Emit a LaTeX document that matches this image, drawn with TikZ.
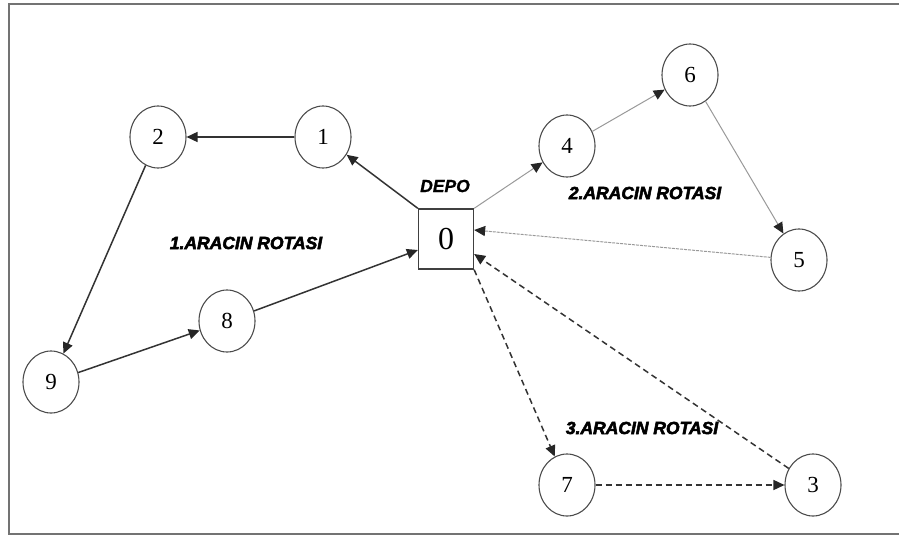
\documentclass[tikz,border=0pt]{standalone}
\usepackage{fontspec}
\setmainfont{Liberation Serif}
\newfontfamily\heavyfont[FakeBold=3]{Liberation Sans Bold Italic}
\newfontfamily\depofont[FakeBold=1]{Liberation Sans Bold Italic}
\usetikzlibrary{arrows.meta,shapes.geometric}
\tikzset{
  x=1pt, y=-1pt,
  stopnode/.style={draw=black!70, line width=1.1pt, ellipse, minimum width=56pt,
    minimum height=62pt, inner sep=0pt, font=\fontsize{23}{23}\selectfont},
  depot/.style={draw=black!75, line width=1.3pt, minimum width=55pt, minimum height=60pt,
    inner sep=0pt, font=\fontsize{32}{32}\selectfont},
  route/.style={font=\heavyfont\fontsize{17.5}{17.5}\selectfont},
  tip/.style={-{Triangle[length=11pt,width=10pt,color=black!85]}},
  routeA/.style={tip, draw=black!80, line width=1.5pt},
  routeB/.style={tip, draw=black!40, line width=1pt},
  routeC/.style={tip, draw=black!80, line width=1.5pt, dash pattern=on 6pt off 4pt},
}
\begin{document}
\begin{tikzpicture}
\useasboundingbox (0,0) rectangle (899,538);
% outer frame (open on the right)
\draw[black!55, line width=2.2pt] (905,4) -- (9,4) -- (9,534) -- (905,534);

% depot
\node[depot] (d0) at (446,239) {0};
\node[font=\depofont\fontsize{17.5}{17.5}\selectfont] (depo) at (445,186) {DEPO};

% customers
\node[stopnode] (n1) at (323,137) {1};
\node[stopnode] (n2) at (158,137) {2};
\node[stopnode] (n9) at (51,382) {9};
\node[stopnode] (n8) at (227,321) {8};
\node[stopnode] (n4) at (567,146) {4};
\node[stopnode] (n6) at (690,75) {6};
\node[stopnode] (n5) at (799,260) {5};
\node[stopnode] (n7) at (567,485) {7};
\node[stopnode] (n3) at (813,485) {3};

% route labels
\node[route] (r1) at (246,243) {1.ARACIN ROTASI};
\node[route] (r2) at (645,193) {2.ARACIN ROTASI};
\node[route] (r3) at (642,428) {3.ARACIN ROTASI};

% route 1
\draw[routeA] (d0.north west) -- (n1);
\draw[routeA] (n1) -- (n2);
\draw[routeA] (n2) -- (n9);
\draw[routeA] (n9) -- (n8);
\draw[routeA] (n8) -- (d0.west |- 0,250);

% route 2
\draw[routeB] (d0.north east) -- (n4);
\draw[routeB] (n4) -- (n6);
\draw[routeB] (n6) -- (n5);
\draw[routeB, dash pattern=on 3pt off 1pt] (n5) -- (d0.east |- 0,230);

% route 3
\draw[routeC] (d0.south east) -- (n7);
\draw[routeC] (n7) -- (n3);
\draw[routeC] (n3) -- (d0.east |- 0,254);
\end{tikzpicture}
\end{document}
